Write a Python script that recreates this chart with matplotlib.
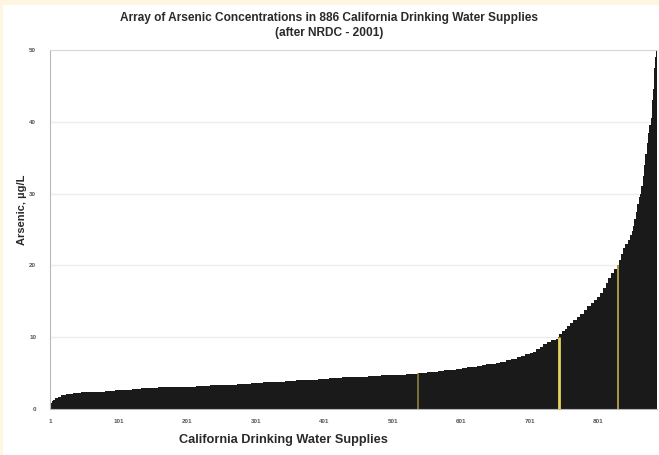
import numpy as np
import matplotlib
matplotlib.use("Agg")
import matplotlib.pyplot as plt
from matplotlib.patches import Rectangle

# Arsenic concentration levels (µg/L) and number of supplies at each level
levels = [0.6, 0.9, 1.1, 1.3, 1.5, 1.7, 1.9, 2.1, 2.2, 2.3, 2.4, 2.5, 2.6, 2.7, 2.8,
          2.9, 3.0, 3.1, 3.2, 3.3, 3.4, 3.5, 3.6, 3.7, 3.8, 3.9, 4.0, 4.1, 4.2, 4.3,
          4.4, 4.5, 4.6, 4.7, 4.8, 4.9, 5.0, 5.1, 5.2, 5.3, 5.4, 5.5, 5.6, 5.7, 5.8,
          5.9, 6.0, 6.1, 6.2, 6.3, 6.4, 6.6, 6.8, 7.0, 7.2, 7.4, 7.6, 7.8, 8.0, 8.3,
          8.6, 9.0, 9.3, 9.6, 9.8, 10.0, 10.4, 10.8, 11.2, 11.6, 12.0, 12.4, 12.8, 13.3,
          13.8, 14.3, 14.8, 15.2, 15.6, 16.2, 16.8, 17.5, 18.2, 18.9, 19.5, 20.0,
          20.8, 21.6, 22.4, 23.0, 23.6, 24.2, 24.8, 25.5, 26.5, 27.5, 28.5, 29.5,
          30.0, 31.0, 32.5, 34.0, 35.5, 37.0, 38.5, 39.5, 40.5, 41.5, 43.0, 44.5,
          46.0, 47.5, 49.0, 50.0, 52.0]
counts = [1, 2, 2, 3, 3, 5, 7, 10, 12, 18, 18, 14, 12, 12, 14,
          25, 30, 25, 20, 20, 20, 20, 18, 16, 16, 16, 16, 16, 16, 19,
          19, 19, 19, 19, 18, 17, 14, 8, 8, 8, 8, 9, 9, 8, 7,
          7, 7, 7, 7, 7, 6, 8, 8, 8, 7, 6, 6, 5, 5, 5,
          5, 6, 6, 6, 4, 1, 4, 4, 4, 4, 5, 5, 5, 5,
          5, 5, 5, 5, 4, 4, 4, 4, 4, 4, 6, 2,
          3, 3, 3, 3, 3, 3, 2, 2, 2, 2, 2, 2,
          2, 2, 2, 2, 2, 2, 2, 2, 1, 1, 1, 1,
          1, 1, 1, 1, 1]
thresholds = [5, 10, 20]
xtick_labels = [1, 101, 201, 301, 401, 501, 601, 701, 801]
ytick_labels = [0, 10, 20, 30, 40, 50]

arsenic = np.repeat(levels, counts)
supply = np.arange(1, len(arsenic) + 1)

fig = plt.figure(figsize=(6.59, 4.55), dpi=100, facecolor="white")
# cream page margin on the left and top
fig.patches.append(Rectangle((0, 0), 3 / 659, 1, transform=fig.transFigure,
                             facecolor="#fff6e2", edgecolor="none", zorder=0))
fig.patches.append(Rectangle((0, 1 - 5 / 455), 1, 5 / 455, transform=fig.transFigure,
                             facecolor="#fff6e2", edgecolor="none", zorder=0))

ax = fig.add_axes([50 / 659, 1 - 409 / 455, 607 / 659, 359 / 455])
ax.set_facecolor("white")

ax.bar(supply, arsenic, width=1.0, color="#1a1a1a", edgecolor="none",
       linewidth=0, zorder=2)

# vertical markers where the sorted values reach each threshold
marker_styles = {5: ("#8c8040", 1.2), 10: ("#e2d35a", 2.0), 20: ("#a89a48", 1.4)}
for t in thresholds:
    i = int(np.argmax(arsenic >= t))
    col, lw = marker_styles[t]
    ax.vlines(supply[i], 0, arsenic[i], colors=col, linewidth=lw, zorder=3)

ax.set_xlim(0.5, len(arsenic) + 0.5)
ax.set_ylim(0, 50)
ax.set_yticks(ytick_labels)
ax.set_yticklabels([str(v) for v in ytick_labels])
ax.set_xticks(xtick_labels)
ax.set_xticklabels([str(v) for v in xtick_labels])

ax.yaxis.grid(True, color="#ececec", linewidth=1.0, zorder=0)
ax.set_axisbelow(True)
ax.spines["right"].set_visible(False)
ax.spines["top"].set_color("#d8d8d8")
ax.spines["left"].set_color("#b8b8b8")
ax.spines["bottom"].set_color("#b8b8b8")
ax.tick_params(axis="both", length=0, labelsize=4.5, labelcolor="#555555")
ax.tick_params(axis="y", pad=10)
ax.tick_params(axis="x", pad=7)
for lab in ax.get_xticklabels() + ax.get_yticklabels():
    lab.set_fontweight("bold")
    lab.set_family("Liberation Sans")

fig.text(0.5, 1 - 18 / 455,
         "Array of Arsenic Concentrations in 886 California Drinking Water Supplies",
         ha="center", va="center", fontsize=8.6, fontweight="bold",
         family="Liberation Sans", color="#2a2a2a")
fig.text(0.5, 1 - 33 / 455, "(after NRDC - 2001)", ha="center", va="center",
         fontsize=8.6, fontweight="bold", family="Liberation Sans", color="#2a2a2a")
fig.text(283 / 659, 1 - 440 / 455, "California Drinking Water Supplies",
         ha="center", va="center", fontsize=9.2, fontweight="bold",
         family="Liberation Sans", color="#2a2a2a")
fig.text(22 / 659, 1 - 210 / 455, "Arsenic, µg/L", ha="center", va="center",
         rotation=90, fontsize=8.0, fontweight="bold",
         family="Liberation Sans", color="#2a2a2a")

fig.savefig("out.png", dpi=100, facecolor=fig.get_facecolor())
